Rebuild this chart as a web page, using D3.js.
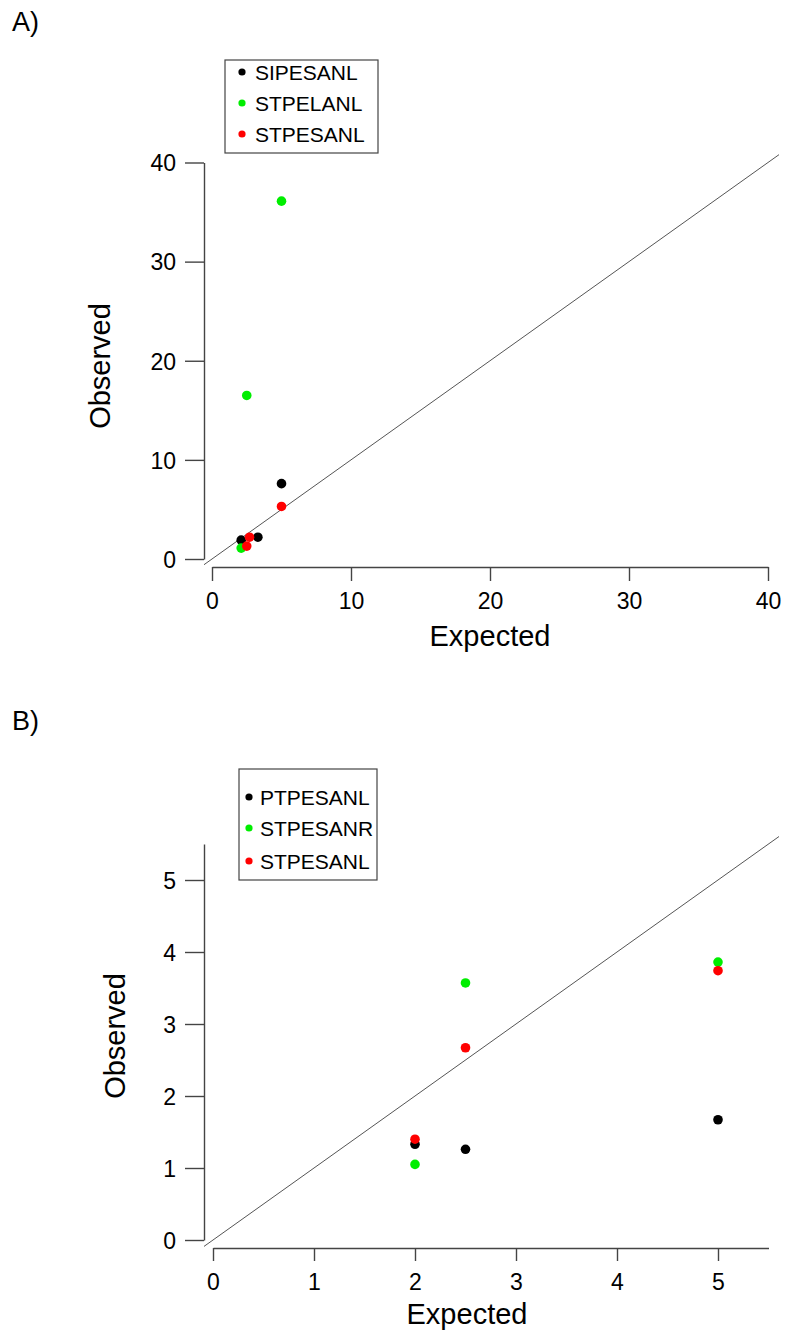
<!DOCTYPE html>
<html>
<head>
<meta charset="utf-8">
<script src="https://cdn.jsdelivr.net/npm/d3@7"></script>
<style>
  html, body { margin: 0; padding: 0; background: #ffffff; }
  svg { display: block; font-family: "Liberation Sans", Arial, sans-serif; }
</style>
</head>
<body>
<svg id="chart" width="785" height="1337"></svg>
<script>
// ---------- Panel A data ----------
const A_names = ["SIPESANL", "STPELANL", "STPESANL"];
const A_colors = ["#000000", "#00ee00", "#ff0000"];
const A_SIPESANL_exp = [2.1, 3.3, 5.0];
const A_SIPESANL_obs = [1.9, 2.2, 7.6];
const A_STPELANL_exp = [2.1, 2.5, 5.0];
const A_STPELANL_obs = [1.1, 16.5, 36.1];
const A_STPESANL_exp = [2.5, 2.7, 5.0];
const A_STPESANL_obs = [1.3, 2.2, 5.3];
const A_ticks = [0, 10, 20, 30, 40];

// ---------- Panel B data ----------
const B_names = ["PTPESANL", "STPESANR", "STPESANL"];
const B_colors = ["#000000", "#00ee00", "#ff0000"];
const B_PTPESANL_exp = [2.0, 2.5, 5.0];
const B_PTPESANL_obs = [1.33, 1.26, 1.67];
const B_STPESANR_exp = [2.0, 2.5, 5.0];
const B_STPESANR_obs = [1.05, 3.57, 3.86];
const B_STPESANL_exp = [2.0, 2.5, 5.0];
const B_STPESANL_obs = [1.40, 2.67, 3.74];
const B_ticks = [0, 1, 2, 3, 4, 5];

const svg = d3.select("#chart");
const axisColor = "#444";

function drawPanel(cfg) {
  const g = svg.append("g");
  const x = d3.scaleLinear().domain(cfg.xDomain).range(cfg.xRange);
  const y = d3.scaleLinear().domain(cfg.yDomain).range(cfg.yRange);

  const clipId = "clip" + cfg.id;
  svg.append("clipPath").attr("id", clipId)
    .append("rect")
    .attr("x", cfg.plot.x0).attr("y", cfg.plot.y0)
    .attr("width", cfg.plot.x1 - cfg.plot.x0)
    .attr("height", cfg.plot.y1 - cfg.plot.y0);

  // identity line
  g.append("line")
    .attr("clip-path", `url(#${clipId})`)
    .attr("x1", x(cfg.lineExt[0])).attr("y1", y(cfg.lineExt[0]))
    .attr("x2", x(cfg.lineExt[1])).attr("y2", y(cfg.lineExt[1]))
    .attr("stroke", "#555").attr("stroke-width", 1);

  // x axis
  const xa = g.append("g")
    .attr("transform", `translate(0,${cfg.plot.y1})`)
    .call(d3.axisBottom(x).tickValues(cfg.ticks).tickSize(cfg.xTickLen).tickSizeOuter(0).tickFormat(d3.format("d")));
  xa.select(".domain").attr("stroke", axisColor).attr("stroke-width", 1.4);
  xa.selectAll(".tick line").attr("stroke", axisColor).attr("stroke-width", 1.4);
  xa.selectAll(".tick text")
    .attr("y", cfg.xLabelOff).attr("dy", "0.36em")
    .attr("font-size", 23).attr("fill", "#000")
    .attr("font-family", "Liberation Sans, Arial, sans-serif");

  // y axis
  const ya = g.append("g")
    .attr("transform", `translate(${cfg.plot.x0},0)`)
    .call(d3.axisLeft(y).tickValues(cfg.ticks).tickSize(cfg.yTickLen).tickSizeOuter(0).tickFormat(d3.format("d")));
  ya.select(".domain").attr("stroke", axisColor).attr("stroke-width", 1.4);
  ya.selectAll(".tick line").attr("stroke", axisColor).attr("stroke-width", 1.4);
  ya.selectAll(".tick text")
    .attr("x", -(cfg.yTickLen + 9)).attr("dy", "0.36em")
    .attr("font-size", 23).attr("fill", "#000")
    .attr("font-family", "Liberation Sans, Arial, sans-serif");

  // axis titles
  g.append("text").text("Expected")
    .attr("x", cfg.xTitle[0]).attr("y", cfg.xTitle[1]).attr("dy", "0.36em")
    .attr("text-anchor", "middle").attr("font-size", 29).attr("fill", "#000");
  g.append("text").text("Observed")
    .attr("transform", `translate(${cfg.yTitle[0]},${cfg.yTitle[1]}) rotate(-90)`)
    .attr("dy", "0.36em")
    .attr("text-anchor", "middle").attr("font-size", 29).attr("fill", "#000");

  // panel label
  g.append("text").text(cfg.label)
    .attr("x", cfg.labelPos[0]).attr("y", cfg.labelPos[1]).attr("dy", "0.36em")
    .attr("font-size", 27).attr("fill", "#000");

  // points
  cfg.series.forEach((s, i) => {
    const pts = s.exp.map((e, k) => [e, s.obs[k]]);
    g.append("g").selectAll("circle").data(pts).join("circle")
      .attr("cx", d => x(d[0])).attr("cy", d => y(d[1]))
      .attr("r", 4.8).attr("fill", cfg.colors[i]);
  });

  // legend
  const L = cfg.legend;
  g.append("rect")
    .attr("x", L.x0).attr("y", L.y0)
    .attr("width", L.x1 - L.x0).attr("height", L.y1 - L.y0)
    .attr("fill", "#fff").attr("stroke", "#444").attr("stroke-width", 1.2);
  cfg.names.forEach((n, i) => {
    const cy = L.rows[i];
    g.append("circle").attr("cx", L.dotX).attr("cy", cy).attr("r", 3.6).attr("fill", cfg.colors[i]);
    g.append("text").text(n).attr("x", L.textX).attr("y", cy).attr("dy", "0.36em")
      .attr("font-size", 21).attr("fill", "#000");
  });
}

drawPanel({
  id: "A",
  xDomain: [0, 40], xRange: [212, 768],
  yDomain: [0, 40], yRange: [559, 162.5],
  plot: { x0: 204, x1: 779, y0: 154, y1: 567 },
  lineExt: [-2, 45],
  ticks: A_ticks,
  xTickLen: 14, yTickLen: 19, xLabelOff: 34,
  xTitle: [490, 636], yTitle: [100, 366],
  label: "A)", labelPos: [12, 21],
  names: A_names, colors: A_colors,
  series: [
    { exp: A_SIPESANL_exp, obs: A_SIPESANL_obs },
    { exp: A_STPELANL_exp, obs: A_STPELANL_obs },
    { exp: A_STPESANL_exp, obs: A_STPESANL_obs }
  ],
  legend: { x0: 225, y0: 60, x1: 378, y1: 153, dotX: 242, textX: 255, rows: [72, 103, 134] }
});

drawPanel({
  id: "B",
  xDomain: [0, 5.5], xRange: [213, 768.5],
  yDomain: [0, 5.5], yRange: [1240, 844],
  plot: { x0: 204, x1: 779, y0: 834, y1: 1248 },
  lineExt: [-1, 7],
  ticks: B_ticks,
  xTickLen: 13, yTickLen: 19, xLabelOff: 34,
  xTitle: [467, 1314], yTitle: [115, 1036],
  label: "B)", labelPos: [12, 720],
  names: B_names, colors: B_colors,
  series: [
    { exp: B_PTPESANL_exp, obs: B_PTPESANL_obs },
    { exp: B_STPESANR_exp, obs: B_STPESANR_obs },
    { exp: B_STPESANL_exp, obs: B_STPESANL_obs }
  ],
  legend: { x0: 239, y0: 769, x1: 377, y1: 880, dotX: 249, textX: 260, rows: [797, 828, 861] }
});
</script>
</body>
</html>
